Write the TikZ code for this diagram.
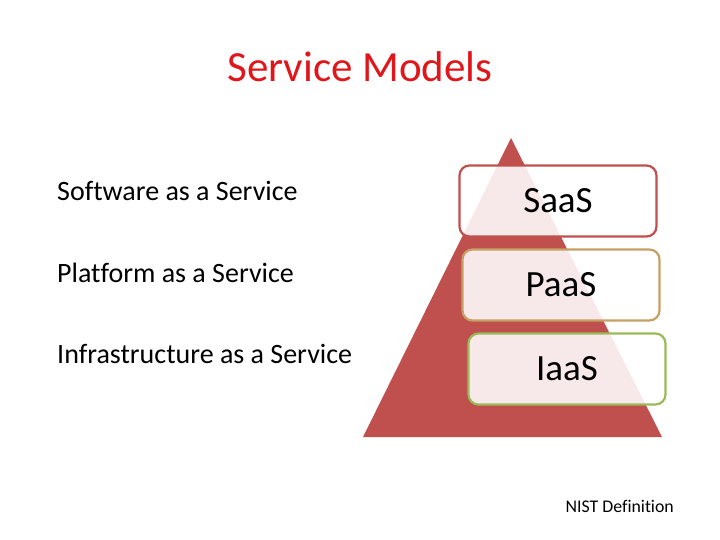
\documentclass[tikz,border=0pt]{standalone}
\usepackage{fontspec}
\setmainfont[Ligatures=NoCommon]{Carlito}
\definecolor{tri}{HTML}{C0504D}
\definecolor{titlered}{HTML}{E0161B}
\definecolor{bS}{HTML}{C0504D}
\definecolor{bP}{HTML}{C6A065}
\definecolor{bI}{HTML}{9BBB59}
\begin{document}
\begin{tikzpicture}[x=1pt,y=-1pt,
  lbl/.style={anchor=base west,font=\fontsize{28}{32}\selectfont,inner sep=0},
  layer/.style={draw=#1,line width=2.2pt,rounded corners=10pt,fill=white,fill opacity=0.88,text opacity=1,minimum width=197pt,minimum height=71pt,font=\fontsize{37}{42}\selectfont,inner sep=0}]
\useasboundingbox (0,0) rectangle (720,540);
\node[font=\fontsize{43}{50}\selectfont,text=titlered] (title) at (360,67) {Service Models};
\fill[tri] (511,138) -- (363,437) -- (662,437) -- cycle;
\node[layer=bS] (saas) at (558,201) {SaaS};
\node[layer=bP] (paas) at (561,285) {PaaS};
\node[layer=bI] (iaas) at (567,369) {IaaS};
\node[lbl] (sw) at (57,201) {Software as a Service};
\node[lbl] (pf) at (57,282) {Platform as a Service};
\node[lbl] (inf) at (57,363) {Infrastructure as a Service};
\node[anchor=base east,font=\fontsize{17.8}{21}\selectfont,inner sep=0] (nist) at (674,512) {NIST Definition};
\end{tikzpicture}
\end{document}
